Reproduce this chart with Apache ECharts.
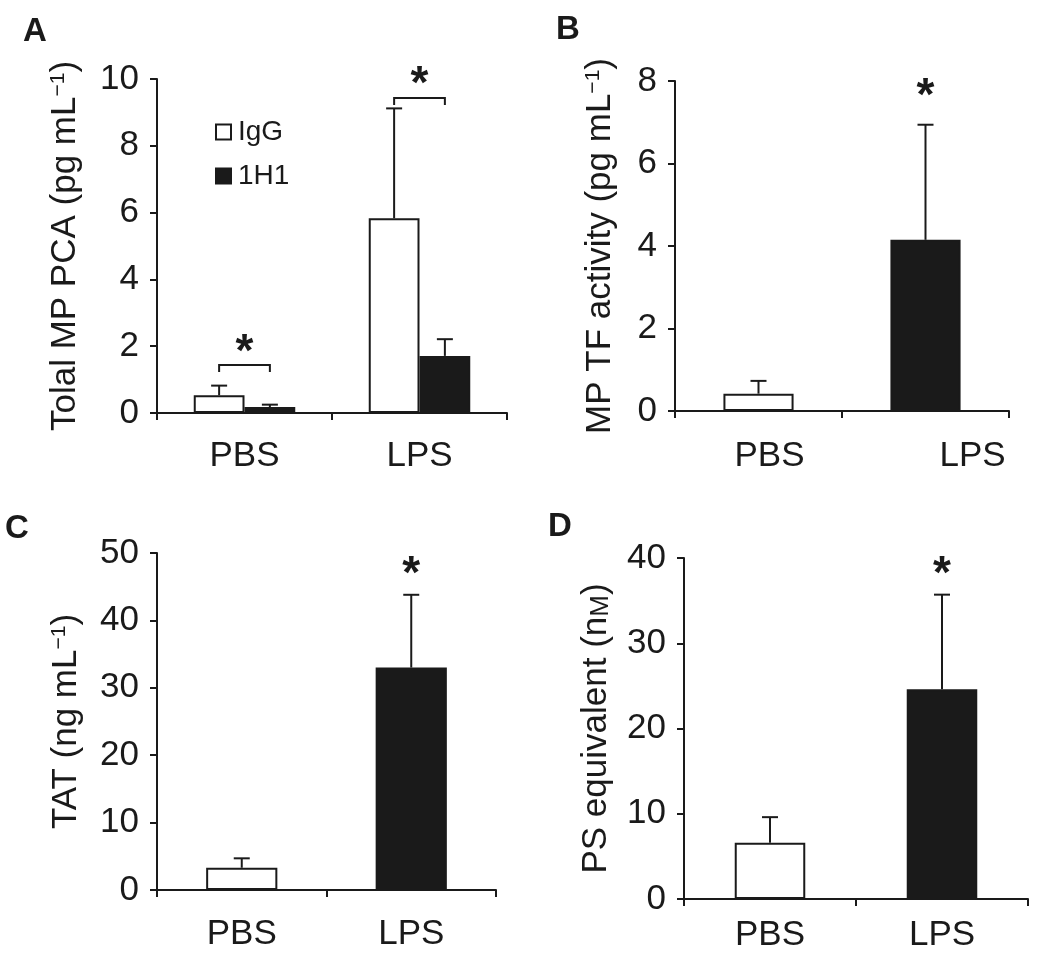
<!DOCTYPE html>
<html><head><meta charset="utf-8">
<script src="https://cdn.jsdelivr.net/npm/echarts@6/dist/echarts.min.js"></script>
<style>html,body{margin:0;padding:0;background:#fff}#c{width:1050px;height:970px}</style>
</head><body><div id="c"></div>
<script>
// ---------- data ----------
const categories = ['PBS', 'LPS'];
// Panel A – total MP PCA (pg mL-1)
const aSeriesNames = ['IgG', '1H1'];
const aIgG = [0.53, 5.83];
const aIgGSD = [0.29, 3.29];
const a1H1 = [0.18, 1.71];
const a1H1SD = [0.07, 0.50];
const aBracketY = [1.44, 9.43];
const aStarY = [2.1, 10.1];
const aTicks = [0, 2, 4, 6, 8, 10];
// Panel B – MP TF activity (pg mL-1)
const bValues = [0.42, 4.15];
const bSD = [0.31, 2.79];
const bStarY = [null, 7.85];
const bTicks = [0, 2, 4, 6, 8];
// Panel C – TAT (ng mL-1)
const cValues = [3.3, 33.0];
const cSD = [1.4, 10.8];
const cStarY = [null, 48.2];
const cTicks = [0, 10, 20, 30, 40, 50];
// Panel D – PS equivalent (nM)
const dValues = [6.6, 24.6];
const dSD = [3.0, 11.1];
const dStarY = [null, 39.1];
const dTicks = [0, 10, 20, 30, 40];
const panelLetters = ['A', 'B', 'C', 'D'];

// ---------- style ----------
const ink = '#1a1a1a';
const FF = '"Liberation Sans", Arial, Helvetica, sans-serif';
const FS = 35;

const chart = echarts.init(document.getElementById('c'), null, {renderer: 'canvas'});

const grids = [
  {left: 157, top: 79, width: 350, height: 334},
  {left: 675, top: 81, width: 334, height: 330},
  {left: 157, top: 553, width: 339, height: 337},
  {left: 684, top: 558, width: 344, height: 341}
];
const letterPos = [[23, 32], [556, 30], [5, 529], [548, 527]];

function xAxisCfg(g, margin, formatter, rich) {
  return {
    type: 'category', gridIndex: g, data: categories, boundaryGap: true,
    axisLine: {show: true, lineStyle: {color: ink, width: 2}},
    axisTick: {show: true, length: 7, inside: false, alignWithLabel: false, lineStyle: {color: ink, width: 2}},
    axisLabel: {color: ink, fontSize: FS, fontFamily: FF, margin: margin, formatter: formatter, rich: rich || {}},
    splitLine: {show: false}
  };
}
function yAxisCfg(g, ticks, nameStr, nameGap, rich) {
  return {
    type: 'value', gridIndex: g, min: ticks[0], max: ticks[ticks.length - 1], interval: ticks[1] - ticks[0],
    axisLine: {show: true, lineStyle: {color: ink, width: 2}},
    axisTick: {show: true, length: 7, inside: false, lineStyle: {color: ink, width: 2}},
    axisLabel: {color: ink, fontSize: FS, fontFamily: FF, margin: 18},
    splitLine: {show: false},
    name: nameStr, nameLocation: 'middle', nameRotate: 90, nameGap: nameGap,
    nameTextStyle: {color: ink, fontSize: FS, fontFamily: FF, rich: rich}
  };
}
const supRich = {
  a: {fontSize: FS, fontFamily: FF, color: ink},
  s: {fontSize: 21, fontFamily: FF, color: ink, verticalAlign: 'top'}
};
const smallCapRich = {
  a: {fontSize: FS, fontFamily: FF, color: ink},
  m: {fontSize: 26, fontFamily: FF, color: ink, verticalAlign: 'bottom'}
};

const whiteStyle = {color: '#ffffff', borderColor: ink, borderWidth: 2};
const blackStyle = {color: ink, borderColor: ink, borderWidth: 2};

function errSeries(g, vals, sds, offsetFrac) {
  return {
    type: 'custom', xAxisIndex: g, yAxisIndex: g, z: 5, silent: true,
    data: vals.map((v, i) => [i, v + sds[i]]),
    renderItem: function (params, api) {
      const i = params.dataIndex;
      const band = api.size([1, 0])[0];
      const base = api.coord([i, vals[i]]);
      const top = api.coord([i, vals[i] + sds[i]]);
      const x = base[0] + band * offsetFrac;
      const cw = 8;
      return {type: 'group', children: [
        {type: 'line', shape: {x1: x, y1: base[1], x2: x, y2: top[1]}, style: {stroke: ink, lineWidth: 2}},
        {type: 'line', shape: {x1: x - cw, y1: top[1], x2: x + cw, y2: top[1]}, style: {stroke: ink, lineWidth: 2}}
      ]};
    }
  };
}
function starSeries(g, starY) {
  return {
    type: 'custom', xAxisIndex: g, yAxisIndex: g, z: 6, silent: true, clip: false,
    data: starY.map((v, i) => [i, v]).filter(d => d[1] != null),
    renderItem: function (params, api) {
      const p = api.coord([api.value(0), api.value(1)]);
      return {type: 'text', style: {text: '*', x: p[0], y: p[1] + 10, align: 'center', verticalAlign: 'middle',
        fontSize: 46, fontWeight: 'bold', fontFamily: FF, fill: ink}};
    }
  };
}
function bracketSeries(g, bracketY, half) {
  return {
    type: 'custom', xAxisIndex: g, yAxisIndex: g, z: 6, silent: true, clip: false,
    data: bracketY.map((v, i) => [i, v]),
    renderItem: function (params, api) {
      const i = api.value(0);
      const band = api.size([1, 0])[0];
      const p = api.coord([i, api.value(1)]);
      const x1 = p[0] - band * half, x2 = p[0] + band * half;
      const drop = 7;
      return {type: 'polyline', shape: {points: [[x1, p[1] + drop], [x1, p[1]], [x2, p[1]], [x2, p[1] + drop]]},
        style: {stroke: ink, lineWidth: 2, fill: null}};
    }
  };
}

const aBarW = 0.29;
const option = {
  animation: false,
  backgroundColor: '#ffffff',
  textStyle: {fontFamily: FF},
  grid: grids,
  legend: {
    orient: 'vertical', left: 210, top: 113, itemWidth: 15, itemHeight: 15, itemGap: 16,
    icon: 'rect', selectedMode: false,
    textStyle: {fontSize: 28, color: ink, fontFamily: FF, padding: [0, 0, 0, 2]},
    data: [
      {name: aSeriesNames[0], itemStyle: whiteStyle},
      {name: aSeriesNames[1], itemStyle: blackStyle}
    ]
  },
  xAxis: [
    xAxisCfg(0, 26),
    xAxisCfg(1, 28, (v, i) => (i === 1 ? '{r|' + v + '}' : '{p|' + v + '}'),
      {p: {fontSize: FS, fontFamily: FF, color: ink, padding: [0, 0, 0, 22]},
       r: {fontSize: FS, fontFamily: FF, color: ink, padding: [0, 0, 0, 94]}}),
    xAxisCfg(2, 27),
    xAxisCfg(3, 19)
  ],
  yAxis: [
    yAxisCfg(0, aTicks, '{a|Tolal MP PCA (pg mL}{s|\u22121}{a|)}', 74, supRich),
    yAxisCfg(1, bTicks, '{a|MP TF activity (pg mL}{s|\u22121}{a|)}', 57, supRich),
    yAxisCfg(2, cTicks, '{a|TAT (ng mL}{s|\u22121}{a|)}', 73, supRich),
    yAxisCfg(3, dTicks, '{a|PS equivalent (n}{m|M}{a|)}', 70, smallCapRich)
  ],
  graphic: panelLetters.map((t, k) => ({
    type: 'text', x: letterPos[k][0], y: letterPos[k][1],
    style: {text: t, fontSize: 33, fontWeight: 'bold', fontFamily: FF, fill: ink, verticalAlign: 'middle', align: 'left'}
  })),
  series: [
    {name: aSeriesNames[0], type: 'bar', xAxisIndex: 0, yAxisIndex: 0, data: aIgG, barWidth: (aBarW * 100) + '%', barGap: '0%', itemStyle: whiteStyle},
    {name: aSeriesNames[1], type: 'bar', xAxisIndex: 0, yAxisIndex: 0, data: a1H1, barWidth: (aBarW * 100) + '%', barGap: '0%', itemStyle: blackStyle},
    errSeries(0, aIgG, aIgGSD, -aBarW / 2),
    errSeries(0, a1H1, a1H1SD, aBarW / 2),
    bracketSeries(0, aBracketY, aBarW / 2),
    starSeries(0, aStarY),

    {name: 'B', type: 'bar', xAxisIndex: 1, yAxisIndex: 1, barWidth: '42%',
      data: bValues.map((v, i) => ({value: v, itemStyle: i === 0 ? whiteStyle : blackStyle}))},
    errSeries(1, bValues, bSD, 0),
    starSeries(1, bStarY),

    {name: 'C', type: 'bar', xAxisIndex: 2, yAxisIndex: 2, barWidth: '42%',
      data: cValues.map((v, i) => ({value: v, itemStyle: i === 0 ? whiteStyle : blackStyle}))},
    errSeries(2, cValues, cSD, 0),
    starSeries(2, cStarY),

    {name: 'D', type: 'bar', xAxisIndex: 3, yAxisIndex: 3, barWidth: '41%',
      data: dValues.map((v, i) => ({value: v, itemStyle: i === 0 ? whiteStyle : blackStyle}))},
    errSeries(3, dValues, dSD, 0),
    starSeries(3, dStarY)
  ]
};
chart.setOption(option);
</script>
</body></html>
